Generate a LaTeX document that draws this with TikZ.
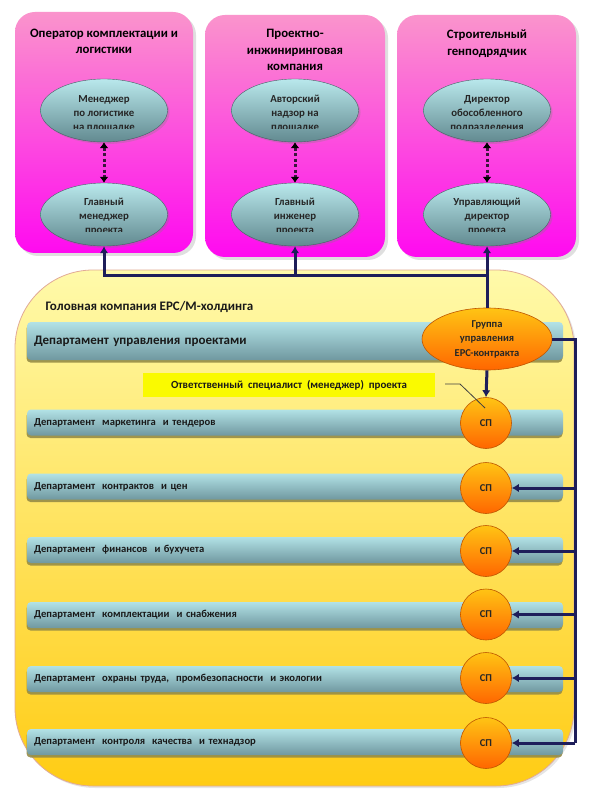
\documentclass[tikz,border=0pt]{standalone}
\usepackage{fontspec}
\setmainfont{Carlito}
\usetikzlibrary{shapes.geometric,arrows.meta,shadows}
\definecolor{pinktop}{RGB}{250,148,204}
\definecolor{pinkbot}{RGB}{255,10,240}
\definecolor{elltop}{RGB}{185,232,236}
\definecolor{ellbot}{RGB}{98,138,144}
\definecolor{yeltop}{RGB}{255,250,170}
\definecolor{yelbot}{RGB}{255,204,20}
\definecolor{yelborder}{RGB}{225,170,150}
\definecolor{bartop}{RGB}{178,226,230}
\definecolor{barbot}{RGB}{112,152,160}
\definecolor{barshadow}{RGB}{150,140,70}
\definecolor{ortop}{RGB}{255,196,20}
\definecolor{orbot}{RGB}{255,102,0}
\definecolor{orborder}{RGB}{190,85,0}
\definecolor{navy}{RGB}{30,30,90}
\definecolor{dotcol}{RGB}{60,20,60}
\definecolor{labelyellow}{RGB}{250,250,0}
\begin{document}
\begin{tikzpicture}[x=1pt,y=-1pt,font=\bfseries,
  pinkbox/.style={rectangle,rounded corners=20pt,top color=pinktop,bottom color=pinkbot,draw=none,
    drop shadow={opacity=0.25,shadow xshift=3pt,shadow yshift=-3pt}},
  boxtitle/.style={align=center,font=\bfseries\fontsize{12.8}{16.5}\selectfont,text=black},
  ell/.style={ellipse,minimum width=127pt,minimum height=63pt,inner sep=0pt,
    top color=elltop,bottom color=ellbot,draw=ellbot!70!black,line width=0.4pt,
    drop shadow={opacity=0.3,shadow xshift=2pt,shadow yshift=-2pt}},
  elltext/.style={align=center,font=\bfseries\fontsize{10.8}{14}\selectfont,text=black!85},
  yelbox/.style={rectangle,rounded corners=78pt,top color=yeltop,bottom color=yelbot,
    draw=yelborder,line width=0.8pt,
    drop shadow={opacity=0.2,shadow xshift=2pt,shadow yshift=-2pt}},
  bar/.style={rectangle,rounded corners=4pt,minimum width=536pt,minimum height=26pt,inner sep=0pt,
    text width=522pt,align=left,top color=bartop,bottom color=barbot,
    font=\bfseries\fontsize{10.6}{12}\selectfont,text=black!90,
    drop shadow={fill=barshadow,opacity=0.9,shadow xshift=-0.5pt,shadow yshift=-2.5pt}},
  orell/.style={ellipse,minimum width=130pt,minimum height=62pt,inner sep=0pt,
    top color=ortop,bottom color=orbot,draw=orborder,line width=0.6pt,
    align=center,font=\bfseries\fontsize{10.5}{14.5}\selectfont,text=black!85},
  spc/.style={circle,minimum size=51pt,inner sep=0pt,
    top color=ortop,bottom color=orbot,draw=orborder,line width=0.6pt,
    font=\bfseries\fontsize{10.5}{11}\selectfont,text=black!85},
  conn/.style={draw=navy,line width=3pt},
  tip/.style={-{Latex[length=7pt,width=8.5pt]}},
  dotarr/.style={draw=dotcol,line width=3pt,dash pattern=on 3pt off 2.5pt,
    {Latex[length=6pt,width=9pt,black]}-{Latex[length=6pt,width=9pt,black]}}
]
\useasboundingbox (0,0) rectangle (594,799);
\fill[white] (0,0) rectangle (594,799);

% top company boxes
\node[pinkbox,minimum width=178pt,minimum height=241pt] (b1) at (104,132.5) {};
\node[pinkbox,minimum width=180pt,minimum height=242pt] (b2) at (295,136) {};
\node[pinkbox,minimum width=179pt,minimum height=242pt] (b3) at (486.5,136) {};

\node[boxtitle] (t1) at (104,41.5) {Оператор комплектации и\\логистики};
\node[boxtitle] (t2) at (295,50) {Проектно-\\инжиниринговая\\компания};
\node[boxtitle] (t3) at (487,43.5) {Строительный\\генподрядчик};

% ellipses
\node[ell] (e1a) at (104,110.5) {};
\node[ell] (e1b) at (104,214.5) {};
\node[ell] (e2a) at (295,110.5) {};
\node[ell] (e2b) at (295,214.5) {};
\node[ell] (e3a) at (487,110.5) {};
\node[ell] (e3b) at (487,214.5) {};

\begin{scope}
\clip (30,75) rectangle (180,128.5);
\node[elltext] (x1a) at (104,113.8) {Менеджер\\по логистике\\на площадке};
\end{scope}
\begin{scope}
\clip (30,180) rectangle (180,231.5);
\node[elltext] (x1b) at (104,216.8) {Главный\\менеджер\\проекта};
\end{scope}
\begin{scope}
\clip (220,75) rectangle (370,128.5);
\node[elltext] (x2a) at (295,113.8) {Авторский\\надзор на\\площадке};
\end{scope}
\begin{scope}
\clip (220,180) rectangle (370,231.5);
\node[elltext] (x2b) at (295,216.8) {Главный\\инженер\\проекта};
\end{scope}
\begin{scope}
\clip (410,75) rectangle (565,128.5);
\node[elltext] (x3a) at (487,113.8) {Директор\\обособленного\\подразделения};
\end{scope}
\begin{scope}
\clip (410,180) rectangle (565,231.5);
\node[elltext] (x3b) at (487,216.8) {Управляющий\\директор\\проекта};
\end{scope}

\draw[dotarr] (e1a.south) -- (e1b.north);
\draw[dotarr] (e2a.south) -- (e2b.north);
\draw[dotarr] (e3a.south) -- (e3b.north);

% head company
\node[yelbox,minimum width=559pt,minimum height=516pt] (hc) at (294.5,528) {};
\node[anchor=west,font=\bfseries\fontsize{13}{15}\selectfont,text=black!90] (hct) at (42,307) {Головная компания EPC/M-холдинга};

\node[bar,minimum height=38pt,font=\bfseries\fontsize{13}{15}\selectfont] (d1) at (295,341) {Департамент управления проектами};
\node[bar] (d2) at (295,422.5) {Департамент~ маркетинга~ и тендеров};
\node[bar] (d3) at (295,486.5) {Департамент~ контрактов~ и цен};
\node[bar] (d4) at (295,550) {Департамент~ финансов~ и бухучета};
\node[bar] (d5) at (295,615) {Департамент~ комплектации~ и снабжения};
\node[bar] (d6) at (295,679) {Департамент~ охраны труда,~ промбезопасности~ и экологии};
\node[bar] (d7) at (295,742) {Департамент~ контроля~ качества~ и технадзор};

\node[rectangle,fill=labelyellow,minimum width=292pt,minimum height=24pt,inner sep=0pt,
  font=\bfseries\fontsize{10.9}{12}\selectfont,text=black!90] (lbl) at (289,385) {Ответственный~ специалист~ (менеджер)~ проекта};

\node[orell] (grp) at (487,339) {Группа\\управления\\EPC-контракта};

\node[spc] (sp2) at (486,423) {СП};
\node[spc] (sp3) at (486,488) {СП};
\node[spc] (sp4) at (486,551) {СП};
\node[spc] (sp5) at (486,614.5) {СП};
\node[spc] (sp6) at (486,678) {СП};
\node[spc] (sp7) at (486,743) {СП};

% connectors
\coordinate (j) at (487,275);
\coordinate (r0) at (575,339);
\draw[conn] (grp.north) -- (j);
\draw[conn,tip] (j) -- (e3b.south);
\draw[conn,tip] (j) -| (e2b.south);
\draw[conn,tip] (j) -| (e1b.south);
\draw[conn,tip] (grp.south) -- (sp2.north);
\draw[conn] (grp.east) -- (r0) -- (sp7 -| r0);
\draw[conn,tip] (sp3 -| r0) -- (sp3.east);
\draw[conn,tip] (sp4 -| r0) -- (sp4.east);
\draw[conn,tip] (sp5 -| r0) -- (sp5.east);
\draw[conn,tip] (sp6 -| r0) -- (sp6.east);
\draw[conn,tip] (sp7 -| r0) -- (sp7.east);

% callout
\coordinate (c1) at (445,384);
\coordinate (c2) at (460,384);
\coordinate (c3) at (485,408);
\draw[black!75,line width=0.8pt] (c1) -- (c2) -- (c3);
\end{tikzpicture}
\end{document}
